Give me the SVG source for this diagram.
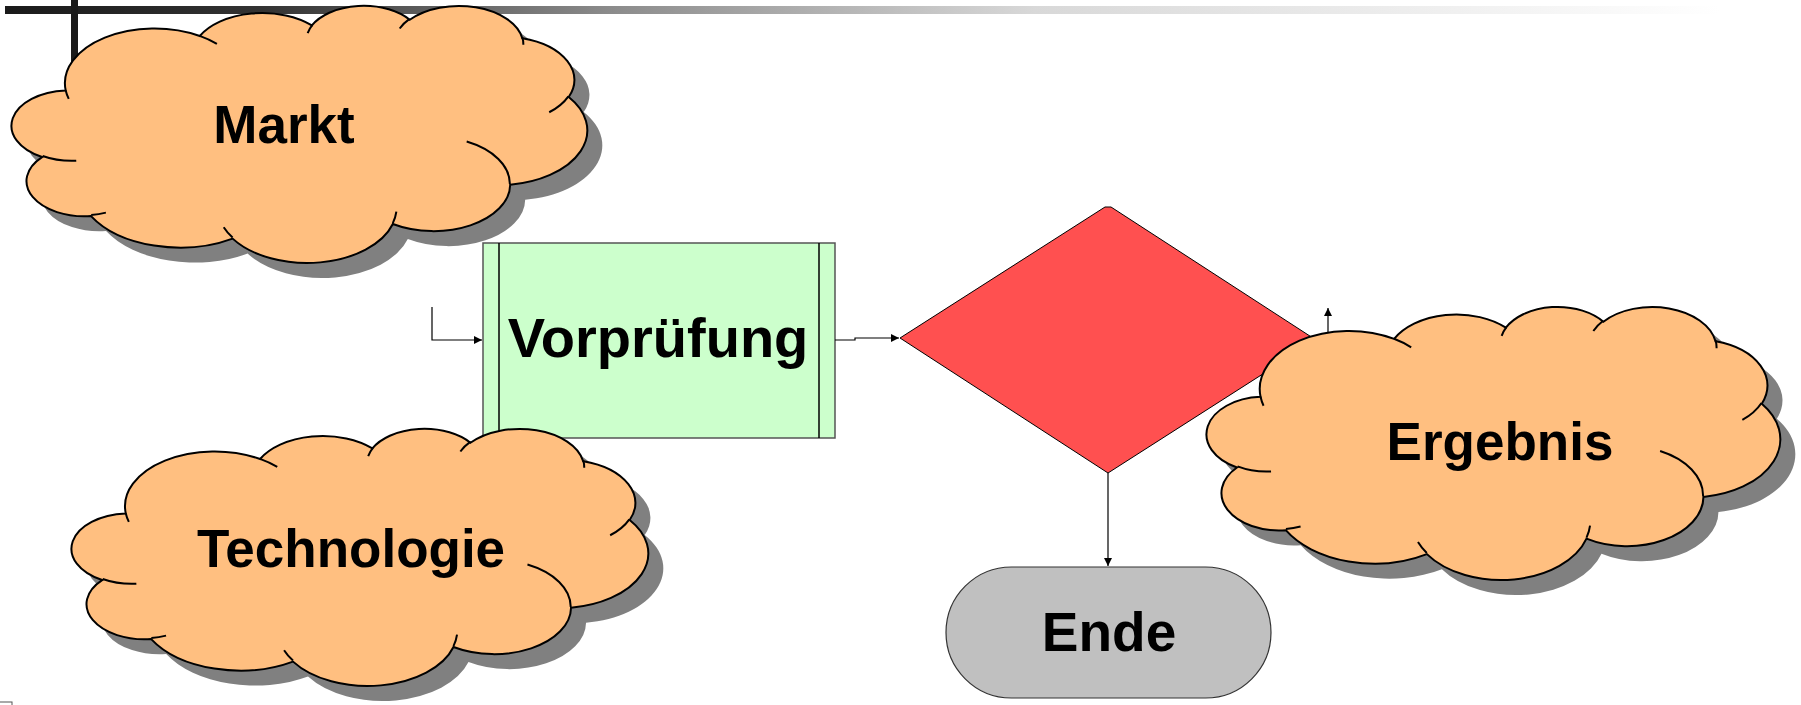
<svg xmlns="http://www.w3.org/2000/svg" xmlns:xlink="http://www.w3.org/1999/xlink" width="1801" height="705" viewBox="0 0 1801 705">
  <style>
    .cloud-shadow { fill: #808080; stroke: none; }
    .cloud-fill { fill: #FFBF80; stroke: #000; }
    .cloud-inner { fill: none; stroke: #000; }
    .cp { vector-effect: non-scaling-stroke; stroke-width: 2; }
    .label { font-family: "Liberation Sans", Arial, sans-serif; font-weight: bold; fill: #000; text-anchor: middle; }
    .conn { fill: none; stroke: #000; stroke-width: 1.2; }
  </style>
  <defs>
    <linearGradient id="barGrad" x1="0" y1="0" x2="1" y2="0">
      <stop offset="0" stop-color="#1a1a1a"/>
      <stop offset="0.15" stop-color="#333333"/>
      <stop offset="0.35" stop-color="#8a8a8a"/>
      <stop offset="0.6" stop-color="#d8d8d8"/>
      <stop offset="1" stop-color="#ffffff"/>
    </linearGradient>
    <path id="cloudOutline" class="cp" d="M3900 14370 A6753 9190 0 0 1 14008 5206 A5333 7267 0 0 1 22459 3435 A4365 5945 0 0 1 29836 2484 A4857 6595 0 0 1 38321 5580 A5333 7273 0 0 1 41821 15464 A6775 9220 0 0 1 37408 30208 A5785 7867 0 0 1 28560 36818 A6752 9215 0 0 1 16484 39270 A7720 10543 0 0 1 5809 35479 A4360 5918 0 0 1 2118 25558 A4345 5945 0 0 1 3900 14370 Z"/>
    <path id="cloudInner" class="cp" d="M4693 26177 A4345 5945 0 0 1 2159 25379 M6928 34899 A4360 5918 0 0 1 5820 35280 M16478 39090 A6752 9215 0 0 1 15810 37350 M28827 34751 A6752 9215 0 0 1 28561 36660 M34129 22954 A5785 7867 0 0 1 37381 30090 M41798 15354 A5333 7273 0 0 1 40350 18030 M38324 5426 A4857 6595 0 0 1 38400 6690 M29078 3952 A4857 6595 0 0 1 29820 2339 M22141 4720 A4365 5945 0 0 1 22500 3330 M14000 5192 A6753 9190 0 0 1 15297 6538 M4127 15789 A6753 9190 0 0 1 3900 14371"/>
    <marker id="arrow" viewBox="0 0 10 10" refX="10" refY="5" markerWidth="9" markerHeight="8" markerUnits="userSpaceOnUse" orient="auto">
      <path d="M0,0 L10,5 L0,10 Z" fill="#000"/>
    </marker>
  </defs>

  <g id="header-bar">
    <rect x="5" y="6" width="1715" height="8" fill="url(#barGrad)"/>
    <rect x="71" y="0" width="7" height="150" fill="#1a1a1a"/>
  </g>

  <g id="markt">
    <use xlink:href="#cloudOutline" class="cloud-shadow" transform="translate(29,20) scale(0.013264,0.005949)"/>
    <use xlink:href="#cloudOutline" class="cloud-fill" transform="translate(14,5) scale(0.013264,0.005949)"/>
    <use xlink:href="#cloudInner" class="cloud-inner" transform="translate(14,5) scale(0.013264,0.005949)"/>
    <text class="label" x="284" y="143" font-size="53">Markt</text>
  </g>

  <g id="vorpruefung">
    <rect x="483" y="243" width="352" height="195" fill="#CCFFCC" stroke="#555" stroke-width="1.5"/>
    <line x1="499" y1="243" x2="499" y2="438" stroke="#000" stroke-width="1.5"/>
    <line x1="819" y1="243" x2="819" y2="438" stroke="#000" stroke-width="1.5"/>
    <text class="label" x="658" y="357" font-size="56">Vorprüfung</text>
  </g>

  <g id="entscheidung">
    <polygon points="1105,207 1111,207 1316,340 1108,473 900,338" fill="#FF5050" stroke="#000" stroke-width="1"/>
  </g>

  <g id="ende">
    <rect x="946" y="567" width="325" height="131" rx="65.5" ry="65.5" fill="#C0C0C0" stroke="#333" stroke-width="1.2"/>
    <text class="label" x="1109" y="651" font-size="55">Ende</text>
  </g>

  <g id="connectors">
    <path class="conn" d="M432 307 V340 H482" marker-end="url(#arrow)"/>
    <path class="conn" d="M835 340 H855 V338 H899" marker-end="url(#arrow)"/>
    <path class="conn" d="M1108 473 V566" marker-end="url(#arrow)"/>
    <path class="conn" d="M1328 334 V308" marker-end="url(#arrow)"/>
  </g>

  <g id="technologie">
    <use xlink:href="#cloudOutline" class="cloud-shadow" transform="translate(89,443) scale(0.013287,0.005949)"/>
    <use xlink:href="#cloudOutline" class="cloud-fill" transform="translate(74,428) scale(0.013287,0.005949)"/>
    <use xlink:href="#cloudInner" class="cloud-inner" transform="translate(74,428) scale(0.013287,0.005949)"/>
    <text class="label" x="351" y="567" font-size="53">Technologie</text>
  </g>

  <g id="ergebnis">
    <use xlink:href="#cloudOutline" class="cloud-shadow" transform="translate(1224,321) scale(0.013218,0.006319)"/>
    <use xlink:href="#cloudOutline" class="cloud-fill" transform="translate(1209,306) scale(0.013218,0.006319)"/>
    <use xlink:href="#cloudInner" class="cloud-inner" transform="translate(1209,306) scale(0.013218,0.006319)"/>
    <text class="label" x="1500" y="460" font-size="53">Ergebnis</text>
  </g>

  <g id="corner-mark">
    <rect x="-2" y="702" width="14" height="10" fill="#fff" stroke="#555" stroke-width="1"/>
  </g>
</svg>
